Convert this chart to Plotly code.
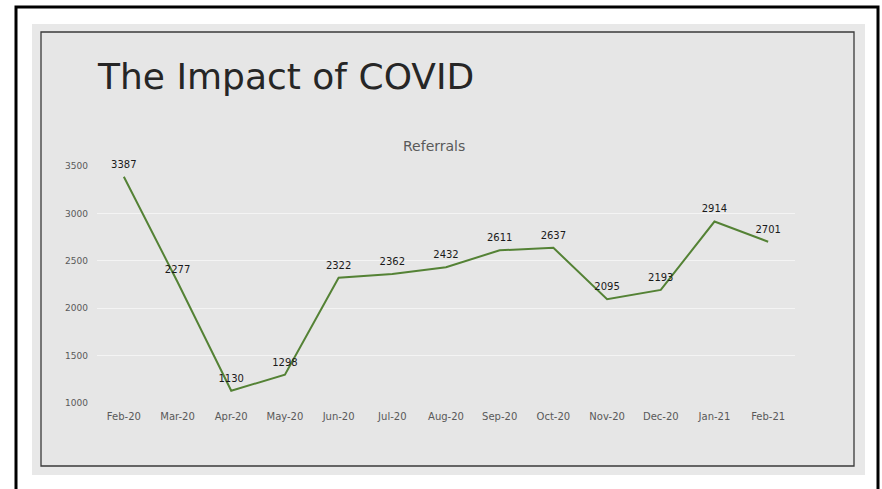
import plotly.graph_objects as go

months = ["Feb-20", "Mar-20", "Apr-20", "May-20", "Jun-20", "Jul-20", "Aug-20",
          "Sep-20", "Oct-20", "Nov-20", "Dec-20", "Jan-21", "Feb-21"]
referrals = [3387, 2277, 1130, 1298, 2322, 2362, 2432, 2611, 2637, 2095, 2193, 2914, 2701]
y_ticks = [1000, 1500, 2000, 2500, 3000, 3500]

W, H = 882, 489
L, R, T, B = 97, 795, 166, 403

def px(x):
    return (x - L) / (R - L)

def py(y):
    return (B - y) / (B - T)

FONT = "DejaVu Sans"

fig = go.Figure()
fig.add_trace(go.Scatter(
    x=months, y=referrals, mode="lines+markers+text",
    line=dict(color="#548235", width=2),
    marker=dict(size=9, color="rgba(0,0,0,0)"),
    text=[str(v) for v in referrals], textposition="top center",
    textfont=dict(family=FONT, size=10, color="#1a1a1a"),
    cliponaxis=False, showlegend=False, hoverinfo="skip",
))

shapes = [
    dict(type="rect", xref="paper", yref="paper", x0=px(16), x1=px(878), y0=py(7), y1=py(500),
         line=dict(color="#000000", width=3), fillcolor="#ffffff", layer="below"),
    dict(type="rect", xref="paper", yref="paper", x0=px(32), x1=px(865), y0=py(24), y1=py(475),
         line=dict(width=0), fillcolor="#e8e8e8", layer="below"),
    dict(type="rect", xref="paper", yref="paper", x0=px(41), x1=px(854), y0=py(32), y1=py(466),
         line=dict(color="#3a3a3a", width=1.3), fillcolor="#e6e6e6", layer="below"),
]

annotations = [
    dict(text="The Impact of COVID", xref="paper", yref="paper", x=px(95), y=py(76),
         xanchor="left", yanchor="middle", showarrow=False,
         font=dict(family=FONT, size=36, color="#262626")),
    dict(text="Referrals", xref="paper", yref="paper", x=px(434), y=py(146),
         xanchor="center", yanchor="middle", showarrow=False,
         font=dict(family=FONT, size=14, color="#595959")),
]

fig.update_layout(
    width=W, height=H,
    margin=dict(l=L, r=W - R, t=T, b=H - B, pad=0),
    paper_bgcolor="#ffffff", plot_bgcolor="rgba(0,0,0,0)",
    shapes=shapes, annotations=annotations,
    xaxis=dict(type="category", range=[-0.5, len(months) - 0.5], showgrid=False,
               zeroline=False, showline=False,
               tickfont=dict(family=FONT, size=10, color="#595959"), ticks="",
               ticklabelstandoff=6),
    yaxis=dict(range=[1000, 3500], tickvals=y_ticks, showgrid=True, gridcolor="#f4f4f4",
               gridwidth=1, zeroline=False, showline=False, ticks="",
               tickfont=dict(family=FONT, size=9, color="#595959"), ticklabelstandoff=8),
)

fig.write_html("out.html", config={"displayModeBar": False},
               post_script="document.body.style.margin='0';document.body.style.padding='0';")
